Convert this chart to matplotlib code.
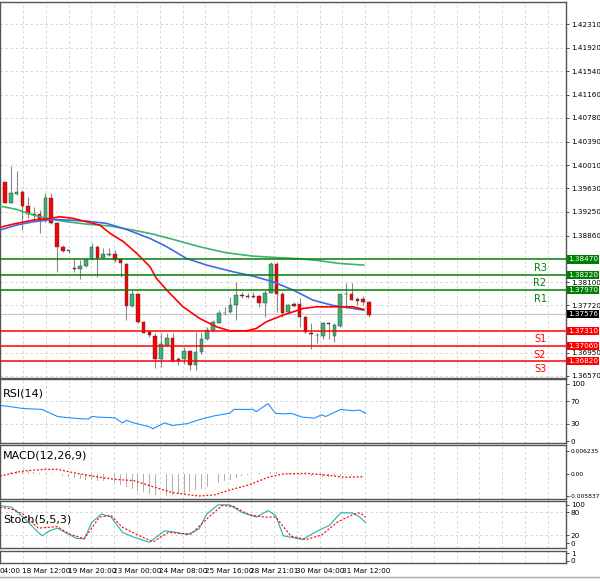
import matplotlib
matplotlib.use("Agg")
import matplotlib.pyplot as plt
import numpy as np

# ---------------- data ----------------
opens  = [1.39727,1.39396,1.39537,1.39575,1.39341,1.39211,1.39205,1.39113,1.39466,1.39058,1.38677,1.38612,1.38335,1.38313,1.38362,1.38471,1.38677,1.38498,1.38547,1.38558,1.38471,1.38400,1.37715,1.37905,1.37453,1.37285,1.37230,1.36839,1.37073,1.37192,1.36839,1.36839,1.36975,1.36746,1.36953,1.37176,1.37318,1.37437,1.37600,1.37606,1.37720,1.37883,1.37878,1.37872,1.37872,1.37753,1.37927,1.38395,1.37905,1.37617,1.37742,1.37742,1.37535,1.37274,1.37241,1.37230,1.37426,1.37230,1.37383,1.37900,1.37900,1.37818,1.37818,1.37780]
highs  = [1.39738,1.39994,1.39918,1.39602,1.39494,1.39330,1.39276,1.39548,1.39559,1.39085,1.38705,1.38623,1.38487,1.38460,1.38487,1.38743,1.38705,1.38650,1.38650,1.38623,1.38487,1.38416,1.37970,1.37916,1.37464,1.37318,1.37263,1.37274,1.37274,1.37274,1.36882,1.37045,1.36991,1.37290,1.37290,1.37372,1.37481,1.37644,1.37698,1.37861,1.38106,1.37943,1.37916,1.37943,1.37889,1.37970,1.38433,1.38433,1.37943,1.37742,1.37780,1.37834,1.37546,1.37426,1.37263,1.37453,1.37453,1.37426,1.37426,1.38079,1.38090,1.37861,1.37872,1.37796]
lows   = [1.39385,1.39385,1.39521,1.38949,1.39140,1.39113,1.38895,1.39085,1.39047,1.38269,1.38596,1.38569,1.38269,1.38144,1.38351,1.38460,1.38188,1.38487,1.38525,1.38433,1.38188,1.37481,1.37698,1.37437,1.37263,1.37209,1.36692,1.36719,1.37056,1.36806,1.36746,1.36773,1.36665,1.36665,1.36936,1.37154,1.37290,1.37426,1.37562,1.37589,1.37481,1.37834,1.37834,1.37834,1.37698,1.37535,1.37916,1.37617,1.37535,1.37589,1.37698,1.37372,1.37274,1.37018,1.37100,1.37181,1.37181,1.37127,1.37372,1.37671,1.37807,1.37725,1.37725,1.37535]
closes = [1.39396,1.39548,1.39575,1.39341,1.39211,1.39189,1.39113,1.39466,1.39058,1.38677,1.38607,1.38623,1.38313,1.38368,1.38460,1.38677,1.38498,1.38558,1.38558,1.38460,1.38416,1.37715,1.37905,1.37453,1.37274,1.37236,1.36839,1.37084,1.37192,1.36817,1.36817,1.36975,1.36746,1.36964,1.37181,1.37318,1.37443,1.37600,1.37595,1.37725,1.37889,1.37872,1.37861,1.37861,1.37753,1.37927,1.38395,1.37905,1.37600,1.37720,1.37709,1.37535,1.37290,1.37252,1.37241,1.37426,1.37415,1.37394,1.37900,1.37900,1.37807,1.37796,1.37780,1.37562]

ma_red_x = [-0.9,1.4,4.9,7.8,9.5,11.8,14.1,16.4,18.2,20.5,22.8,25.1,26.2,28.0,30.8,33.7,36.6,38.9,41.8,43.5,45.2,48.1,49.9,51.6,53.9,56.8,60.2,62.1]
ma_red_y = [1.38993,1.39047,1.39113,1.39140,1.39167,1.39140,1.39085,1.39031,1.38895,1.38759,1.38569,1.38351,1.38161,1.37970,1.37698,1.37508,1.37372,1.37307,1.37307,1.37345,1.37453,1.37562,1.37617,1.37671,1.37698,1.37698,1.37698,1.37655]
ma_blue_x = [-0.9,2.0,4.9,8.4,10.7,14.1,17.6,21.0,25.1,28.0,31.4,34.9,39.5,42.9,46.4,49.9,53.3,56.8,59.1,62.1]
ma_blue_y = [1.38949,1.39031,1.39085,1.39124,1.39113,1.39096,1.39058,1.38960,1.38813,1.38677,1.38487,1.38378,1.38269,1.38199,1.38106,1.37970,1.37807,1.37720,1.37687,1.37644]
ma_green_x = [-0.9,2.0,4.9,7.8,10.7,14.1,18.2,22.2,25.6,29.1,33.7,38.3,42.9,47.5,51.0,54.5,57.9,62.1]
ma_green_y = [1.39341,1.39287,1.39194,1.39129,1.39085,1.39047,1.39015,1.38949,1.38884,1.38797,1.38677,1.38579,1.38525,1.38498,1.38482,1.38449,1.38405,1.38378]

pivot_names = ["R3","R2","R1","S1","S2","S3"]
pivot_values = [1.38470,1.38220,1.37970,1.37310,1.37060,1.36820]
last_price = 1.37576
price_ticks = [1.42310,1.41920,1.41540,1.41160,1.40780,1.40390,1.40010,1.39630,1.39250,1.38860,1.38100,1.37720,1.36950,1.36570]

rsi_x = [-0.87,1.12,3.1,6.42,9.07,11.06,11.7,14.4,15.0,16.4,19.0,20.3,21.0,22.3,25.0,25.6,27.6,29.0,31.6,33.6,36.2,38.9,39.6,42.9,43.5,45.5,46.8,48.2,49.5,51.5,53.5,54.8,55.5,58.1,60.1,61.4,62.4]
rsi_y = [62.4,59.9,57.0,55.4,43.0,40.7,40.1,38.4,43.0,41.8,40.7,31.7,36.2,31.7,24.9,21.5,31.7,27.2,30.6,37.3,44.1,48.6,55.4,55.4,51.4,65.5,48.6,47.5,48.6,41.8,40.1,45.8,43.0,55.4,53.1,54.2,48.6]

macd_hist = [0.0003,0.0006,0.0008,0.0008,0.0007,0.0006,0.0004,0.0003,0.0002,0.0,-0.0005,-0.0009,
             -0.0012,-0.0014,-0.0016,-0.0016,-0.0018,-0.0020,-0.0022,-0.0025,-0.0030,-0.0036,-0.0042,-0.0046,
             -0.0050,-0.0054,-0.0058,-0.0060,-0.0060,-0.0058,-0.0055,-0.0052,-0.0048,-0.0044,-0.0040,-0.0035,
             -0.0030,-0.0025,-0.0020,-0.0015,-0.0010,-0.0006,-0.0003,0.0,0.0002,0.0003,0.0006,0.0005,
             0.0003,0.0002,0.0,-0.0002,-0.0004,-0.0005,-0.0006,-0.0007,-0.0007,-0.0006,-0.0005,-0.0004,
             -0.0002,-0.0001,0.0,-0.0001]
macd_sig_x = [-0.87,3.1,7.08,9.07,12.4,16.4,19.0,22.3,25.6,29.0,33.6,36.2,38.9,42.2,45.5,48.2,52.1,55.5,58.8,62.1]
macd_sig_y = [-0.00054,0.00081,0.00127,0.00127,0.00018,-0.0009,-0.00145,-0.00181,-0.00344,-0.00506,-0.00597,-0.0057,-0.00434,-0.00298,-0.0009,0.0,0.00018,-0.00027,-0.0009,-0.00072]

st_main_zx = [0,30,60,100,110,130,150,170,200,220,240,265,290,320,350,390,430,460,490,520,540,570,600,630,670,700,720,740,790,830,860,890,920,940,955]
st_main_y = [98,94,68,28,19,32,39,28,12,11,54,76,68,28,15,2,32,28,22,37,76,100,100,81,68,85,72,19,9,32,46,79,79,68,53]
st_sig_zx = [0,30,60,100,150,180,220,260,290,320,360,400,440,470,500,540,580,610,650,690,720,760,800,840,880,920,940,955]
st_sig_y = [94,89,76,39,43,24,11,68,72,41,21,3,28,25,24,63,98,96,74,68,68,18,9,21,54,74,79,68]

date_labels = ["04:00","18 Mar 12:00","19 Mar 20:00","23 Mar 00:00","24 Mar 08:00","25 Mar 16:00","28 Mar 21:01","30 Mar 04:00","31 Mar 12:00"]
date_pos = [-0.87,2.94,10.9,18.7,26.6,34.6,42.4,50.3,58.3]

# ---------------- layout ----------------
W, H = 600, 582
fig = plt.figure(figsize=(6, 5.82), dpi=100)
def axes_px(top, bottom):
    return fig.add_axes([0.0, 1 - bottom / H, 566 / W, (bottom - top) / H])

XL = (-0.87, 97.1)
vgrid = [3.1 + 3.95 * k for k in range(25)]
gridkw = dict(color="#d0d0d0", lw=0.6, ls=(0, (3, 3)))
tickfont = 5.2

def style(ax, fs=tickfont, pad=1.5):
    ax.set_xlim(*XL)
    ax.set_xticks([])
    for v in vgrid:
        ax.axvline(v, zorder=0, **gridkw)
    ax.yaxis.tick_right()
    ax.tick_params(axis="y", labelsize=fs, length=2, width=0.5, pad=pad)
    for s in ax.spines.values():
        s.set_color("#555555")
        s.set_linewidth(1.0)

# main
ax = axes_px(2, 378)
style(ax)
ax.set_ylim(1.36537, 1.42669)
ax.set_yticks(price_ticks)
ax.set_yticklabels([f"{t:.5f}" for t in price_ticks])
for t in price_ticks:
    ax.axhline(t, zorder=0, **gridkw)

idx = np.arange(len(opens))
for i, o, h, l, c in zip(idx, opens, highs, lows, closes):
    ax.vlines(i, l, h, color="#888888", lw=0.8, zorder=2)
    col = "#3cb371" if c >= o else "#ff0000"
    lo, hi = min(o, c), max(o, c)
    if hi - lo < 0.00004:
        hi = lo + 0.00004
    ax.bar(i, hi - lo, bottom=lo, width=0.62, color=col, edgecolor="#333333", lw=0.3, zorder=3)

ax.plot(ma_green_x, ma_green_y, color="#3cb371", lw=1.2, zorder=4)
ax.plot(ma_blue_x, ma_blue_y, color="#4169e1", lw=1.2, zorder=4)
ax.plot(ma_red_x, ma_red_y, color="#ff0000", lw=1.2, zorder=4)

ax.axhline(last_price, color="#c8c8c8", lw=0.8, zorder=1)
for name, v in zip(pivot_names, pivot_values):
    col = "#008000" if name.startswith("R") else "#ff0000"
    ax.axhline(v, color=col, lw=1.1, zorder=5)
    ax.text(92.6, v - 0.0006, name, color=col, fontsize=7, ha="center", va="top", zorder=6)
    ax.text(1.003, v, f"{v:.5f}", transform=ax.get_yaxis_transform(), fontsize=tickfont,
            color="white", ha="left", va="center", zorder=10,
            bbox=dict(boxstyle="square,pad=0.15", fc=col, ec="none"), clip_on=False)
ax.text(1.003, last_price, f"{last_price:.5f}", transform=ax.get_yaxis_transform(), fontsize=tickfont,
        color="white", ha="left", va="center", zorder=10,
        bbox=dict(boxstyle="square,pad=0.15", fc="black", ec="none"), clip_on=False)

# RSI
ar = axes_px(379, 443)
style(ar)
ar.set_ylim(-3.5, 108.7)
ar.set_yticks([100, 70, 30, 0])
for t in (70, 30):
    ar.axhline(t, zorder=0, **gridkw)
ar.plot(rsi_x, rsi_y, color="#1e90ff", lw=0.8)
ar.text(0.005, 0.78, "RSI(14)", transform=ar.transAxes, fontsize=8, va="center")

# MACD
am = axes_px(445, 499)
style(am, fs=4.3, pad=1.0)
am.set_ylim(-0.00678, 0.00786)
am.set_yticks([0.006235, 0.0, -0.005837])
am.set_yticklabels(["0.006235", "0.00", "-0.005837"])
am.bar(idx, macd_hist, width=0.15, color="#b0b0b0")
am.plot(macd_sig_x, macd_sig_y, color="#ff0000", lw=0.9, ls=(0, (1.5, 1.5)))
am.text(0.005, 0.8, "MACD(12,26,9)", transform=am.transAxes, fontsize=8, va="center")

# Stoch
ast = axes_px(501, 548)
style(ast)
ast.set_ylim(-13, 110)
ast.set_yticks([100, 80, 20, 0])
for t in (80, 20):
    ast.axhline(t, zorder=0, **gridkw)
sx_main = [z / 15.09 - 0.87 for z in st_main_zx]
sx_sig = [z / 15.09 - 0.87 for z in st_sig_zx]
ast.plot(sx_main, st_main_y, color="#20b2aa", lw=0.8)
ast.plot(sx_sig, st_sig_y, color="#ff0000", lw=0.8, ls=(0, (2, 1.5)))
ast.text(0.005, 0.6, "Stoch(5,5,3)", transform=ast.transAxes, fontsize=8, va="center")

# extra small panel
ae = axes_px(551, 563)
style(ae)
ae.set_ylim(-0.3, 1.3)
ae.set_yticks([1, 0])

# date labels
for lab, p in zip(date_labels, date_pos):
    fig.text((5 + p * 5.78) / W, 1 - 571 / H, lab, fontsize=5.2, ha="left", va="center")
fig.add_artist(plt.Line2D([0, 1], [1 - 577 / H] * 2, color="#aaaaaa", lw=1))

fig.savefig("out.png", dpi=100)
